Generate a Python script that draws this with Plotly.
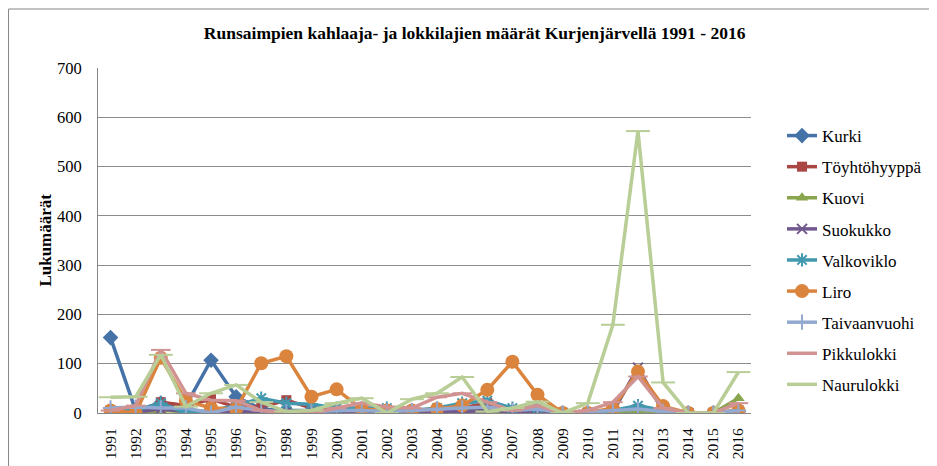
import plotly.graph_objects as go

years = [str(y) for y in range(1991, 2017)]

kurki          = [153, 5, 20, 15, 107, 33, 8, 5, 5, 3, 3, 2, 3, 3, 5, 5, 3, 5, 0, 0, 2, 5, 3, 0, 0, 3]
toyhtohyyppa   = [5, 0, 22, 15, 28, 12, 12, 26, 10, 5, 10, 5, 5, 5, 10, 20, 5, 10, 0, 0, 5, 8, 5, 0, 0, 5]
kuovi          = [2, 0, 5, 3, 3, 3, 2, 2, 2, 2, 2, 2, 2, 2, 3, 5, 2, 5, 0, 0, 2, 5, 2, 0, 0, 30]
suokukko       = [3, 2, 8, 3, 2, 3, 3, 2, 3, 3, 3, 2, 2, 3, 3, 5, 3, 3, 0, 0, 2, 92, 3, 0, 0, 3]
valkoviklo     = [5, 5, 20, 0, 5, 15, 30, 20, 18, 10, 10, 10, 5, 10, 20, 25, 10, 10, 0, 0, 5, 15, 5, 0, 0, 5]
liro           = [5, 0, 112, 25, 10, 8, 101, 115, 33, 48, 8, 5, 5, 8, 15, 47, 104, 37, 0, 0, 10, 84, 14, 0, 0, 5]
taivaanvuohi   = [10, 12, 10, 10, 0, 12, 5, 2, 2, 5, 5, 3, 5, 8, 10, 12, 5, 8, 0, 2, 5, 8, 3, 0, 0, 5]
pikkulokki     = [5, 15, 128, 40, 26, 25, 5, 0, 0, 10, 20, 12, 10, 32, 40, 22, 5, 15, 0, 5, 22, 74, 10, 0, 0, 20]
naurulokki     = [32, 33, 118, 13, 40, 57, 22, 3, 5, 20, 30, 0, 28, 40, 73, 3, 10, 23, 0, 20, 179, 572, 62, 0, 0, 83]

y_ticks = [0, 100, 200, 300, 400, 500, 600, 700]

series = [
    ("Kurki", kurki, "#4572A7", "diamond", 12),
    ("Töyhtöhyyppä", toyhtohyyppa, "#AA4643", "square", 10),
    ("Kuovi", kuovi, "#89A54E", "triangle-up", 11),
    ("Suokukko", suokukko, "#71588F", "x-thin-open", 10),
    ("Valkoviklo", valkoviklo, "#4198AF", "asterisk-open", 11),
    ("Liro", liro, "#DB843D", "circle", 14),
    ("Taivaanvuohi", taivaanvuohi, "#93A9CF", "cross-thin-open", 11),
    ("Pikkulokki", pikkulokki, "#D19392", "line-ew-open", 14),
    ("Naurulokki", naurulokki, "#B9CD96", "line-ew-open", 17),
]

FONT = "Liberation Serif, Times New Roman, serif"

fig = go.Figure()
for i, (name, vals, color, sym, size) in enumerate(series):
    open_sym = sym.endswith("-open")
    fig.add_trace(go.Scatter(
        x=years, y=vals, name=name, mode="lines+markers",
        line=dict(color=color, width=3.5),
        marker=dict(symbol=sym, size=size, color=color,
                    line=dict(color=color, width=2 if open_sym else 0)),
        legendgroup=f"g{i}",
    ))

fig.update_layout(
    width=937, height=466, autosize=False,
    margin=dict(l=90, r=194, t=60, b=61, autoexpand=False),
    paper_bgcolor="white", plot_bgcolor="white",
    font=dict(family=FONT, color="#000000", size=16),
    title=dict(text="<b>Runsaimpien kahlaaja- ja lokkilajien määrät Kurjenjärvellä 1991 - 2016</b>",
               x=0.498, xanchor="center", xref="container", y=0.946, yanchor="middle",
               yref="container",
               font=dict(family=FONT, size=17.5, color="#000000")),
    xaxis=dict(type="category", tickangle=-90, showgrid=False, showline=True,
               range=[-0.5, 25.5], ticklabelstandoff=8,
               linecolor="#868686", linewidth=1, ticks="", tickfont=dict(size=15.5, family=FONT),
               mirror=False, automargin=False),
    yaxis=dict(range=[0, 700], tickvals=y_ticks, ticktext=[str(v) for v in y_ticks],
               showgrid=True, gridcolor="#8C8C8C", gridwidth=1, showline=True,
               linecolor="#868686", linewidth=1, ticks="", zeroline=False,
               ticklabelstandoff=12,
               tickfont=dict(size=16.5, family=FONT), automargin=False),
    legend=dict(x=1.0475, xanchor="left", y=0.855, yanchor="top",
                font=dict(size=17, family=FONT), tracegroupgap=6,
                traceorder="grouped", itemwidth=30, bgcolor="rgba(0,0,0,0)"),
    showlegend=True,
)

fig.add_annotation(text="<b>Lukumäärät</b>", textangle=-90, x=-0.081, xref="paper",
                   xanchor="center", yanchor="middle",
                   y=0.5, yref="paper", showarrow=False,
                   font=dict(family=FONT, size=17, color="#000000"))

fig.add_shape(type="rect", xref="paper", yref="paper", x0=-0.137, x1=1.6, y0=-0.6, y1=1.171,
              line=dict(color="#868686", width=1), fillcolor="rgba(0,0,0,0)", layer="below")

fig.write_html("out.html")
